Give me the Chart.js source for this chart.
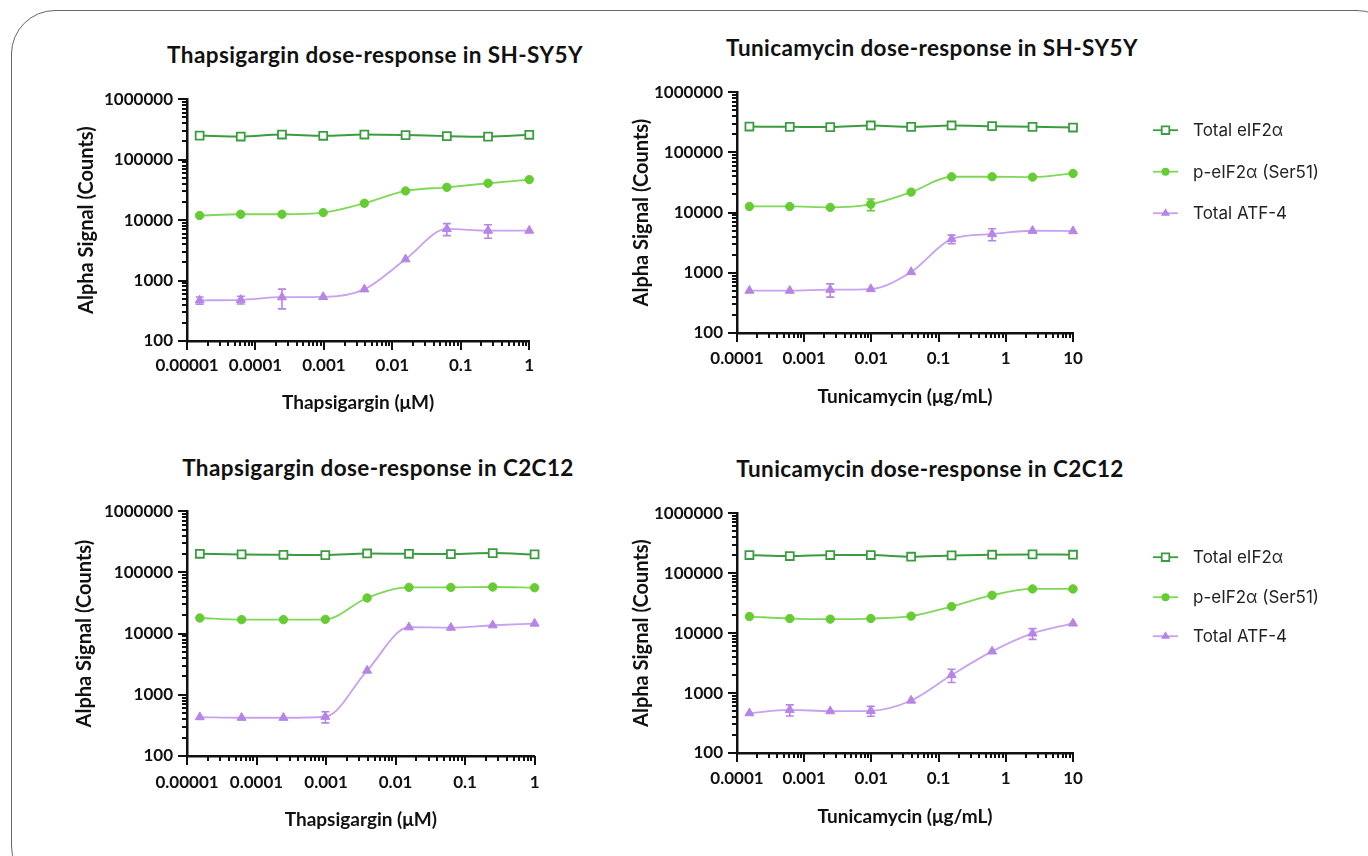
<!DOCTYPE html>
<html lang="en">
<head>
  <meta charset="UTF-8" />
  <title>Dose-response curves</title>
  <script src="https://cdn.jsdelivr.net/npm/chart.js@4"></script>
  <style>
    body {
      margin: 0;
      background: #fff;
      width: 1368px;
      height: 856px;
      overflow: hidden;
      position: relative;
      font-family: Lato, sans-serif;
    }
    .frame {
      position: absolute;
      left: 11px;
      top: 10px;
      width: 1390px;
      height: 880px;
      border: 1.5px solid #666;
      border-radius: 44px;
      box-sizing: border-box;
    }
    .title {
      position: absolute;
      width: 600px;
      text-align: center;
      font-weight: bold;
      font-size: 22.5px;
      line-height: 26px;
      letter-spacing: 0.4px;
      color: #111;
    }
    .panel { position: absolute; }
  </style>
</head>
<body>
  <div class="frame"></div>

  <div class="title" style="left:75px;top:42px">Thapsigargin dose-response in SH-SY5Y</div>
  <div class="title" style="left:632px;top:35px">Tunicamycin dose-response in SH-SY5Y</div>
  <div class="title" style="left:78px;top:455px">Thapsigargin dose-response in C2C12</div>
  <div class="title" style="left:630px;top:456px">Tunicamycin dose-response in C2C12</div>

  <div class="panel" style="left:70px;top:75px;width:479px;height:346px"><canvas id="c1"></canvas></div>
  <div class="panel" style="left:620px;top:68px;width:713px;height:345px"><canvas id="c2"></canvas></div>
  <div class="panel" style="left:70px;top:487px;width:486px;height:349px"><canvas id="c3"></canvas></div>
  <div class="panel" style="left:620px;top:489px;width:713px;height:344px"><canvas id="c4"></canvas></div>

  <script>
    // series names
    const seriesNames = ['Total eIF2\u03b1', 'p-eIF2\u03b1 (Ser51)', 'Total ATF-4'];

    // doses (4-fold dilutions)
    const thapDoses = [0.0000153, 0.000061, 0.000244, 0.000977, 0.0039, 0.0156, 0.0625, 0.25, 1];
    const tunDoses = [0.000153, 0.00061, 0.00244, 0.0098, 0.039, 0.156, 0.625, 2.5, 10];

    // tick labels
    const yTickLabels = ['100', '1000', '10000', '100000', '1000000'];
    const thapTickLabels = ['0.00001', '0.0001', '0.001', '0.01', '0.1', '1'];
    const tunTickLabels = ['0.0001', '0.001', '0.01', '0.1', '1', '10'];

    // SH-SY5Y, thapsigargin
    const shThapTotal = [250000, 241000, 260000, 248000, 260000, 255000, 245000, 240000, 258000];
    const shThapPhospho = [11900, 12500, 12500, 13300, 19000, 30400, 34900, 40700, 46800];
    const shThapAtf4 = [470, 480, 530, 535, 716, 2250, 7140, 6700, 6700];
    const shThapAtf4Err = [65, 70, 190, 0, 0, 0, 1600, 1700, 0];

    // SH-SY5Y, tunicamycin
    const shTunTotal = [269000, 266000, 263000, 280000, 266000, 280000, 273000, 266000, 259000];
    const shTunPhospho = [12650, 12650, 12200, 13800, 21900, 39400, 39400, 38800, 44700];
    const shTunPhosphoErr = [0, 0, 0, 3000, 0, 0, 0, 0, 0];
    const shTunAtf4 = [505, 505, 524, 537, 1030, 3630, 4400, 4990, 4930];
    const shTunAtf4Err = [0, 0, 130, 0, 0, 600, 1000, 0, 0];

    // C2C12, thapsigargin
    const c2ThapTotal = [201500, 196600, 194100, 191800, 204000, 201500, 199000, 206600, 196600];
    const c2ThapPhospho = [18000, 16900, 16900, 17100, 38200, 56900, 56900, 57700, 56200];
    const c2ThapAtf4 = [432, 422, 422, 438, 2490, 12700, 12500, 13700, 14600];
    const c2ThapAtf4Err = [0, 0, 0, 90, 0, 0, 0, 0, 0];

    // C2C12, tunicamycin
    const c2TunTotal = [200400, 192800, 200400, 200400, 188000, 197800, 203000, 205600, 203000];
    const c2TunPhospho = [18900, 17500, 17100, 17500, 19200, 27700, 42800, 54500, 54500];
    const c2TunAtf4 = [462, 525, 499, 505, 750, 2000, 4960, 9870, 14500];
    const c2TunAtf4Err = [0, 110, 0, 95, 0, 500, 0, 2000, 0];

    const styles = [
      { borderColor: '#3a9c3f', borderWidth: 2, pointStyle: 'rect', pointRadius: 5.6,
        pointBackgroundColor: '#fff', pointBorderColor: '#3a9c3f', pointBorderWidth: 1.8 },
      { borderColor: '#80d858', borderWidth: 1.8, pointStyle: 'circle', pointRadius: 4.2,
        pointBackgroundColor: '#66cc33', pointBorderColor: '#66cc33', pointBorderWidth: 1 },
      { borderColor: '#c8a2ee', borderWidth: 1.8, pointStyle: 'triangle', pointRadius: 5.2,
        pointBackgroundColor: '#b685e6', pointBorderColor: '#b685e6', pointBorderWidth: 1 }
    ];

    Chart.defaults.font.family = 'Lato, sans-serif';
    Chart.defaults.color = '#111';

    // error bars drawn on the line's own scales
    const errorBars = {
      id: 'errorBars',
      afterDatasetsDraw(chart) {
        const { ctx } = chart;
        const xs = chart.scales.x, ys = chart.scales.y;
        chart.data.datasets.forEach(ds => {
          if (!ds.errorBars) return;
          ctx.save();
          ctx.strokeStyle = ds.pointBorderColor;
          ctx.lineWidth = 1.6;
          ds.data.forEach((p, j) => {
            const e = ds.errorBars[j];
            if (!e) return;
            const px = xs.getPixelForValue(p.x);
            const top = ys.getPixelForValue(p.y + e);
            const bot = ys.getPixelForValue(p.y - e);
            ctx.beginPath();
            ctx.moveTo(px, top); ctx.lineTo(px, bot);
            ctx.moveTo(px - 4, top); ctx.lineTo(px + 4, top);
            ctx.moveTo(px - 4, bot); ctx.lineTo(px + 4, bot);
            ctx.stroke();
          });
          ctx.restore();
        });
      }
    };

    // Prism style tick marks: long majors, short minors
    const axisTicks = {
      id: 'axisTicks',
      afterDraw(chart) {
        const { ctx, chartArea: a } = chart;
        const xs = chart.scales.x, ys = chart.scales.y;
        ctx.save();
        ctx.strokeStyle = '#111';
        ctx.lineWidth = 2;
        ctx.beginPath();
        xs.ticks.forEach(t => {
          const px = Math.round(xs.getPixelForValue(t.value));
          const len = t.major ? 9 : 5;
          ctx.moveTo(px, a.bottom); ctx.lineTo(px, a.bottom + len);
        });
        ys.ticks.forEach(t => {
          const py = Math.round(ys.getPixelForValue(t.value));
          const len = t.major ? 9 : 5;
          ctx.moveTo(a.left, py); ctx.lineTo(a.left - len, py);
        });
        ctx.stroke();
        ctx.restore();
      }
    };

    // legend at the right: line with marker, then text
    const sideLegend = {
      id: 'sideLegend',
      afterDraw(chart, args, opts) {
        if (!opts.rows) return;
        const { ctx, chartArea: a } = chart;
        ctx.save();
        chart.data.datasets.forEach((ds, i) => {
          const y = a.top + opts.rows[i];
          const x0 = a.right + opts.lineX;
          const cx = x0 + 12.5;
          ctx.strokeStyle = ds.borderColor;
          ctx.lineWidth = 1.8;
          ctx.beginPath(); ctx.moveTo(x0, y); ctx.lineTo(x0 + 25, y); ctx.stroke();
          ctx.fillStyle = ds.pointBackgroundColor;
          ctx.strokeStyle = ds.pointBorderColor;
          ctx.lineWidth = ds.pointBorderWidth;
          ctx.beginPath();
          if (ds.pointStyle === 'rect') {
            ctx.rect(cx - 3.8, y - 3.8, 7.6, 7.6);
            ctx.fill(); ctx.stroke();
          } else if (ds.pointStyle === 'circle') {
            ctx.arc(cx, y, 4, 0, Math.PI * 2);
            ctx.fill();
          } else {
            ctx.moveTo(cx, y - 5); ctx.lineTo(cx + 4.5, y + 2.6); ctx.lineTo(cx - 4.5, y + 2.6);
            ctx.closePath(); ctx.fill();
          }
          ctx.fillStyle = '#222';
          ctx.font = '17px Inter, sans-serif';
          ctx.textBaseline = 'middle';
          ctx.fillText(ds.label, a.right + opts.textX, y + 1);
        });
        ctx.restore();
      }
    };

    Chart.register(errorBars, axisTicks, sideLegend);

    function logTicks(labels) {
      const out = [];
      labels.forEach((s, i) => {
        const m = Number(s);
        out.push({ value: m, major: true, text: s });
        if (i < labels.length - 1) {
          for (let k = 2; k <= 9; k++) out.push({ value: m * k, major: false, text: '' });
        }
      });
      return out;
    }

    function makeChart(id, p) {
      const sets = [p.total, p.phospho, p.atf4].map((vals, i) => Object.assign({
        label: seriesNames[i],
        data: vals.map((v, j) => ({ x: p.doses[j], y: v })),
        errorBars: p.errs[i],
        cubicInterpolationMode: 'monotone',
        clip: false
      }, styles[i]));

      new Chart(document.getElementById(id), {
        type: 'line',
        data: { datasets: sets },
        options: {
          responsive: true,
          maintainAspectRatio: false,
          animation: false,
          events: [],
          layout: { padding: { top: 14, right: p.padRight, bottom: 0, left: 0 } },
          plugins: {
            legend: { display: false },
            tooltip: { enabled: false },
            sideLegend: p.legend || {}
          },
          scales: {
            x: {
              type: 'logarithmic',
              min: Number(p.xLabels[0]),
              max: Number(p.xLabels[p.xLabels.length - 1]),
              afterBuildTicks: s => { s.ticks = logTicks(p.xLabels); },
              afterFit: s => { s.height = 80; },
              grid: { display: false, drawTicks: false },
              border: { display: true, color: '#111', width: 2.5 },
              ticks: {
                autoSkip: false, maxRotation: 0, padding: p.xPad,
                font: { size: 17, weight: 'bold' }, color: '#111',
                callback: (v, i, t) => t[i].text
              },
              title: {
                display: true, text: p.xTitle, color: '#111',
                font: { size: 19, weight: 'bold' },
                padding: { top: 0, bottom: p.xTitlePad }
              }
            },
            y: {
              type: 'logarithmic',
              min: 100,
              max: 1000000,
              afterBuildTicks: s => { s.ticks = logTicks(yTickLabels); },
              afterFit: s => { s.width = 117; },
              grid: { display: false, drawTicks: false },
              border: { display: true, color: '#111', width: 2.5 },
              ticks: {
                autoSkip: false, padding: 14,
                font: { size: 17, weight: 'bold' }, color: '#111',
                callback: (v, i, t) => t[i].text
              },
              title: {
                display: true, text: 'Alpha Signal (Counts)', color: '#111',
                font: { size: 20, weight: 'bold' },
                padding: { top: p.yTitlePad, bottom: 0 }
              }
            }
          }
        }
      });
    }

    makeChart('c1', {
      doses: thapDoses, xLabels: thapTickLabels, xTitle: 'Thapsigargin (\u03bcM)',
      total: shThapTotal, phospho: shThapPhospho, atf4: shThapAtf4,
      errs: [null, null, shThapAtf4Err],
      padRight: 12, xPad: 14.8, xTitlePad: 6.6, yTitlePad: 5
    });
    makeChart('c2', {
      doses: tunDoses, xLabels: tunTickLabels, xTitle: 'Tunicamycin (\u03bcg/mL)',
      total: shTunTotal, phospho: shTunPhospho, atf4: shTunAtf4,
      errs: [null, shTunPhosphoErr, shTunAtf4Err],
      padRight: 260, xPad: 15.8, xTitlePad: 4.6, yTitlePad: 10,
      legend: { lineX: 80, textX: 120, rows: [38, 79.5, 121] }
    });
    makeChart('c3', {
      doses: thapDoses, xLabels: thapTickLabels, xTitle: 'Thapsigargin (\u03bcM)',
      total: c2ThapTotal, phospho: c2ThapPhospho, atf4: c2ThapAtf4,
      errs: [null, null, c2ThapAtf4Err],
      padRight: 12, xPad: 16.5, xTitlePad: 4.6, yTitlePad: 3
    });
    makeChart('c4', {
      doses: tunDoses, xLabels: tunTickLabels, xTitle: 'Tunicamycin (\u03bcg/mL)',
      total: c2TunTotal, phospho: c2TunPhospho, atf4: c2TunAtf4,
      errs: [null, null, c2TunAtf4Err],
      padRight: 260, xPad: 15.8, xTitlePad: 4.9, yTitlePad: 10,
      legend: { lineX: 80, textX: 120, rows: [44, 84, 123] }
    });
  </script>
</body>
</html>
